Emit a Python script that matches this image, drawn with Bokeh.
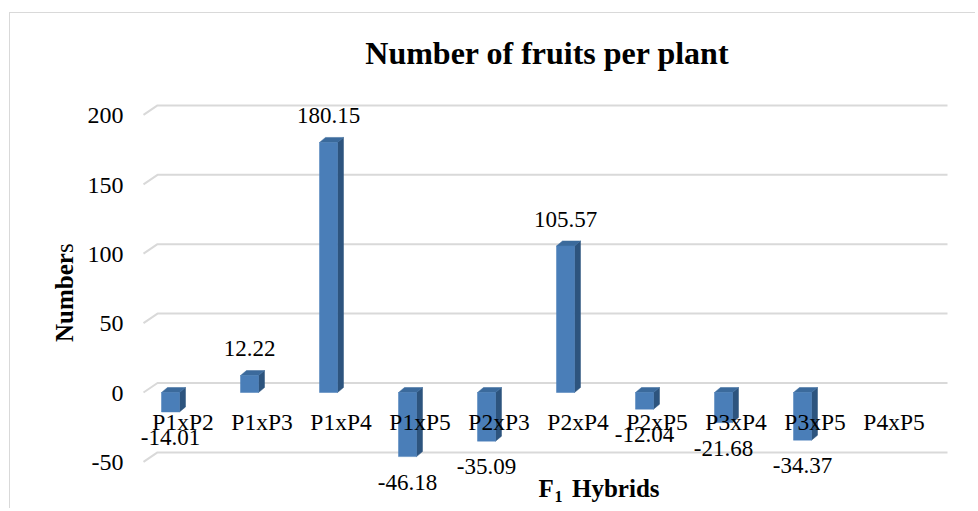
import math
from bokeh.plotting import figure
from bokeh.models import Range1d, Label
from bokeh.embed import file_html
from bokeh.resources import INLINE
from bokeh.core.properties import value

# ---------------- data ----------------
categories = ["P1xP2", "P1xP3", "P1xP4", "P1xP5", "P2xP3",
              "P2xP4", "P2xP5", "P3xP4", "P3xP5", "P4xP5"]
values = [-14.01, 12.22, 180.15, -46.18, -35.09, 105.57, -12.04, -21.68, -34.37, None]
value_labels = ["-14.01", "12.22", "180.15", "-46.18", "-35.09",
                "105.57", "-12.04", "-21.68", "-34.37", ""]
y_ticks = [-50, 0, 50, 100, 150, 200]
y_tick_labels = ["-50", "0", "50", "100", "150", "200"]
title_text = "Number of fruits per plant"
y_title_main = "Number"
y_title_tail = "s"
x_title_a = "F"
x_title_sub = "1"
x_title_b = "Hybrids"

# ---------------- styles / geometry ----------------
W, H = 966, 496
CANVAS_LEFT, CANVAS_TOP = 10, 13         # page position of canvas (after margin + 1px border)
ORIGIN_X = 143                           # page px of category axis start (front plane)
ZERO_Y = 392                             # page px of value 0 (front plane)
PX_X = 79.0                              # px per category
PX_Y = 1.388                             # px per unit
TXT_SHIFT = 0.36                         # renderer's baseline shift, in em

BAR_SHIFT = -12.5
BAR_W = 18.0
DEPTH_X, DEPTH_Y = 6.0, 5.0
WALL_X, WALL_Y = 14.0, 9.5

FRONT = "#4A7EB8"
SIDE = "#2D547E"
TOP = "#3B6A9C"
GRID = "#D9D9D9"
SERIF = "Liberation Serif"


def dx_px(px):
    return px / PX_X


def dy_px(px):
    return px / PX_Y


def page_x(px):
    return (px - ORIGIN_X) / PX_X


def page_y(py):
    return (ZERO_Y - py) / PX_Y


def base(py, size):
    # desired baseline page y -> anchor data y
    return page_y(py - TXT_SHIFT * size)


n = len(categories)

p = figure(width=W, height=H, output_backend="svg", toolbar_location=None,
           x_range=Range1d(page_x(CANVAS_LEFT), page_x(CANVAS_LEFT + W)),
           y_range=Range1d(page_y(CANVAS_TOP + H), page_y(CANVAS_TOP)),
           x_axis_location=None, y_axis_location=None,
           min_border_left=0, min_border_right=0,
           min_border_top=0, min_border_bottom=0,
           styles={"margin-left": "9px", "margin-top": "12px",
                   "border-left": "1px solid #D9D9D9",
                   "border-top": "1px solid #D9D9D9"})
p.outline_line_color = None
p.xgrid.visible = False
p.ygrid.visible = False
p.background_fill_color = "white"
p.border_fill_color = "white"

# back-wall gridlines with slanted floor edges
gx, gy = [], []
for t in y_ticks:
    gx.append([0.0, dx_px(WALL_X), n + dx_px(WALL_X)])
    gy.append([t, t + dy_px(WALL_Y), t + dy_px(WALL_Y)])
p.multi_line(xs=gx, ys=gy, line_color=GRID, line_width=2)

# value-axis tick labels (front plane)
p.text(x=[0] * len(y_ticks), y=y_ticks, text=y_tick_labels, text_align="right",
       text_baseline="alphabetic", x_offset=-20, y_offset=9.5 - TXT_SHIFT * 24,
       text_font=value(SERIF), text_font_size="24px", text_color="black")

# 3D bars
centers = [i + 0.5 for i in range(n)]
bx, bv, blab = [], [], []
for i, v in enumerate(values):
    if v is None:
        continue
    bx.append(centers[i] + dx_px(BAR_SHIFT))
    bv.append(v)
    blab.append(value_labels[i])

hw = dx_px(BAR_W) / 2
ddx, ddy = dx_px(DEPTH_X), dy_px(DEPTH_Y)
lefts = [c - hw for c in bx]
rights = [c + hw for c in bx]
los = [min(0, v) for v in bv]
his = [max(0, v) for v in bv]

side_xs = [[r, r + ddx, r + ddx, r] for r in rights]
side_ys = [[lo, lo + ddy, hi + ddy, hi] for lo, hi in zip(los, his)]
top_xs = [[l, r, r + ddx, l + ddx] for l, r in zip(lefts, rights)]
top_ys = [[hi, hi, hi + ddy, hi + ddy] for hi in his]

p.patches(xs=side_xs, ys=side_ys, fill_color=SIDE, line_color=SIDE, line_width=0.5)
p.patches(xs=top_xs, ys=top_ys, fill_color=TOP, line_color=TOP, line_width=0.5)
p.quad(left=lefts, right=rights, bottom=los, top=his,
       fill_color=FRONT, line_color=FRONT, line_width=0.5)

# category labels at the zero line
p.text(x=centers, y=[0] * n, text=categories, text_align="center",
       text_baseline="alphabetic", y_offset=38 - TXT_SHIFT * 23.5,
       text_font=value(SERIF), text_font_size="23.5px", text_color="black")

# data labels
pos_x = [c for c, v in zip(bx, bv) if v >= 0]
pos_y = [v for v in bv if v >= 0]
pos_t = [t for t, v in zip(blab, bv) if v >= 0]
neg_x = [c for c, v in zip(bx, bv) if v < 0]
neg_y = [v for v in bv if v < 0]
neg_t = [t for t, v in zip(blab, bv) if v < 0]
p.text(x=pos_x, y=pos_y, text=pos_t, text_align="center", text_baseline="alphabetic",
       y_offset=-18.5 - TXT_SHIFT * 23, text_font=value(SERIF), text_font_size="23px",
       text_color="black")
p.text(x=neg_x, y=neg_y, text=neg_t, text_align="center", text_baseline="alphabetic",
       y_offset=34 - TXT_SHIFT * 23, text_font=value(SERIF), text_font_size="23px",
       text_color="black")

# title
p.add_layout(Label(x=page_x(547), y=base(64, 32), text=title_text, text_align="center",
                   text_baseline="alphabetic", text_font=SERIF, text_font_size="32px",
                   text_font_style="bold", text_color="black"))

# y-axis title (bold "Number" + regular "s"), rotated
yx = page_x(73 - TXT_SHIFT * 25)
p.add_layout(Label(x=yx, y=page_y(341.5), text=y_title_main, angle=math.pi / 2,
                   text_align="left", text_baseline="alphabetic", text_font=SERIF,
                   text_font_size="25px", text_font_style="bold", text_color="black"))
p.add_layout(Label(x=yx, y=page_y(252.5), text=y_title_tail, angle=math.pi / 2,
                   text_align="left", text_baseline="alphabetic", text_font=SERIF,
                   text_font_size="25px", text_color="black"))

# x-axis title  F1 Hybrids (subscript 1)
p.add_layout(Label(x=page_x(538), y=base(497, 25), text=x_title_a, text_align="left",
                   text_baseline="alphabetic", text_font=SERIF, text_font_size="25px",
                   text_font_style="bold", text_color="black"))
p.add_layout(Label(x=page_x(554), y=base(502, 16), text=x_title_sub, text_align="left",
                   text_baseline="alphabetic", text_font=SERIF, text_font_size="16px",
                   text_font_style="bold", text_color="black"))
p.add_layout(Label(x=page_x(571.5), y=base(497, 25), text=x_title_b, text_align="left",
                   text_baseline="alphabetic", text_font=SERIF, text_font_size="25px",
                   text_font_style="bold", text_color="black"))

open("out.html", "w").write(file_html(p, INLINE))
